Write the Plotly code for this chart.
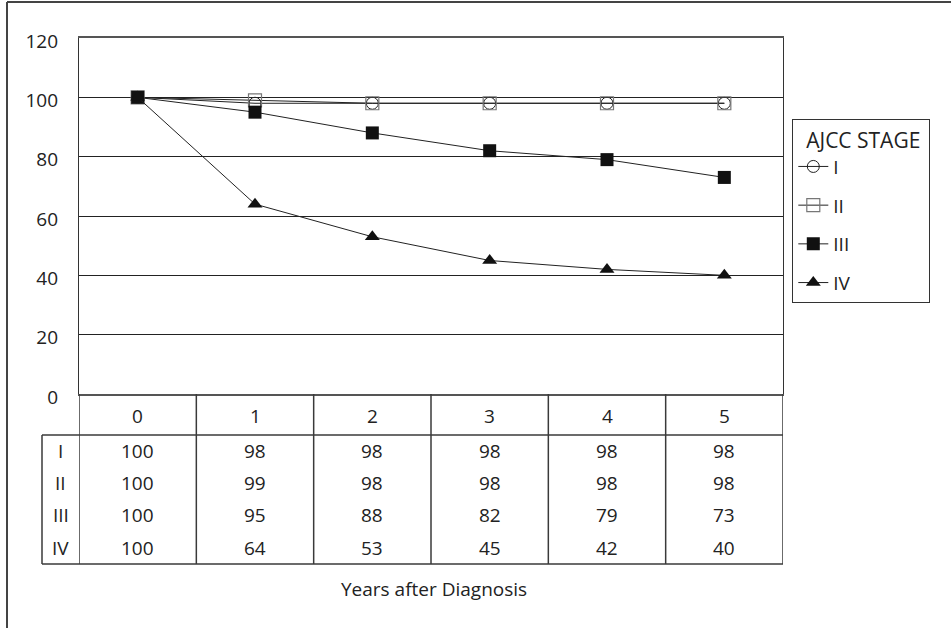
import plotly.graph_objects as go

years = [0, 1, 2, 3, 4, 5]
stages = ["I", "II", "III", "IV"]
stage_I = [100, 98, 98, 98, 98, 98]
stage_II = [100, 99, 98, 98, 98, 98]
stage_III = [100, 95, 88, 82, 79, 73]
stage_IV = [100, 64, 53, 45, 42, 40]
y_ticks = [0, 20, 40, 60, 80, 100, 120]

series = [stage_I, stage_II, stage_III, stage_IV]

W, H = 951, 628
L, R, T, B = 79, 168, 38, 234
PW, PH = W - L - R, H - T - B


def px(p):
    return (p - L) / PW


def py(p):
    return (H - B - p) / PH


FONT = "Open Sans"
FS = 19
TXT = "#222222"

fig = go.Figure()
styles = [
    dict(symbol="circle-open", size=12, color="#222222", line=dict(width=1, color="#222222")),
    dict(symbol="square-open", size=13, color="#777777", line=dict(width=1.2, color="#777777")),
    dict(symbol="square", size=13, color="#111111"),
    dict(symbol="triangle-up", size=13, color="#111111"),
]
for name, vals, st in zip(stages, series, styles):
    fig.add_trace(go.Scatter(
        x=years, y=vals, name=name, mode="lines+markers",
        line=dict(color="#222222", width=1),
        marker=st, legendgroup=name,
    ))

shapes = []
lc = dict(color="#3a3a3a", width=1.5)
# outer frame (top and left visible)
shapes.append(dict(type="line", xref="paper", yref="paper", x0=px(7), x1=px(W + 5), y0=py(2), y1=py(2), line=dict(color="#444", width=2)))
shapes.append(dict(type="line", xref="paper", yref="paper", x0=px(7), x1=px(7), y0=py(2), y1=py(H + 5), line=dict(color="#444", width=2)))
# table lines
n = len(years)
shapes.append(dict(type="line", xref="x", yref="paper", x0=-0.5, x1=n - 0.5, y0=py(435), y1=py(435), line=lc))
shapes.append(dict(type="line", xref="paper", yref="paper", x0=px(42), x1=px(79), y0=py(435), y1=py(435), line=lc))
shapes.append(dict(type="line", xref="paper", yref="paper", x0=px(42), x1=px(79), y0=py(564), y1=py(564), line=lc))
shapes.append(dict(type="line", xref="x", yref="paper", x0=-0.5, x1=n - 0.5, y0=py(564), y1=py(564), line=lc))
shapes.append(dict(type="line", xref="paper", yref="paper", x0=px(42), x1=px(42), y0=py(435), y1=py(564), line=lc))
for k in range(n + 1):
    shapes.append(dict(type="line", xref="x", yref="paper", x0=k - 0.5, x1=k - 0.5, y0=py(394), y1=py(564), line=lc))

ann = []
tf = dict(family=FONT, size=FS, color=TXT)
common = dict(showarrow=False, xanchor="center", yanchor="middle", font=tf)
for k, yr in enumerate(years):
    ann.append(dict(x=yr, y=py(416), xref="x", yref="paper", text=str(yr), **common))
for i, (name, vals) in enumerate(zip(stages, series)):
    yy = py(451 + 32.2 * i)
    ann.append(dict(x=px(60.5), y=yy, xref="paper", yref="paper", text=name, **common))
    for yr, v in zip(years, vals):
        ann.append(dict(x=yr, y=yy, xref="x", yref="paper", text=str(v), **common))
ann.append(dict(x=px(434), y=py(589), xref="paper", yref="paper", text="Years after Diagnosis", **common))

fig.update_layout(
    width=W, height=H,
    margin=dict(l=L, r=R, t=T, b=B, pad=0),
    paper_bgcolor="white", plot_bgcolor="white",
    font=dict(family=FONT, size=FS, color=TXT),
    xaxis=dict(range=[-0.5, n - 0.5], showticklabels=False, showgrid=False, zeroline=False,
               showline=True, linecolor="#555555", linewidth=2, mirror=True, ticks=""),
    yaxis=dict(range=[0, 120], tickvals=y_ticks, showgrid=True, gridcolor="#222222", gridwidth=1.3,
               zeroline=False, showline=True, linecolor="#333333", linewidth=1.3, mirror=True,
               ticks="", ticklabelstandoff=16, ticklabelshift=3,
               tickfont=dict(family=FONT, size=FS, color=TXT)),
    legend=dict(x=px(792), y=py(119), xanchor="left", yanchor="top",
                bordercolor="#333333", borderwidth=1.3, bgcolor="white",
                title=dict(text="&nbsp;&nbsp;AJCC STAGE&nbsp;",
                           font=dict(family=FONT, size=21)),
                font=dict(family=FONT, size=FS), tracegroupgap=11),
    shapes=shapes, annotations=ann,
)

fig.write_html("out.html", config={"displayModeBar": False},
               post_script="document.body.style.margin='0';document.body.style.padding='0';")
